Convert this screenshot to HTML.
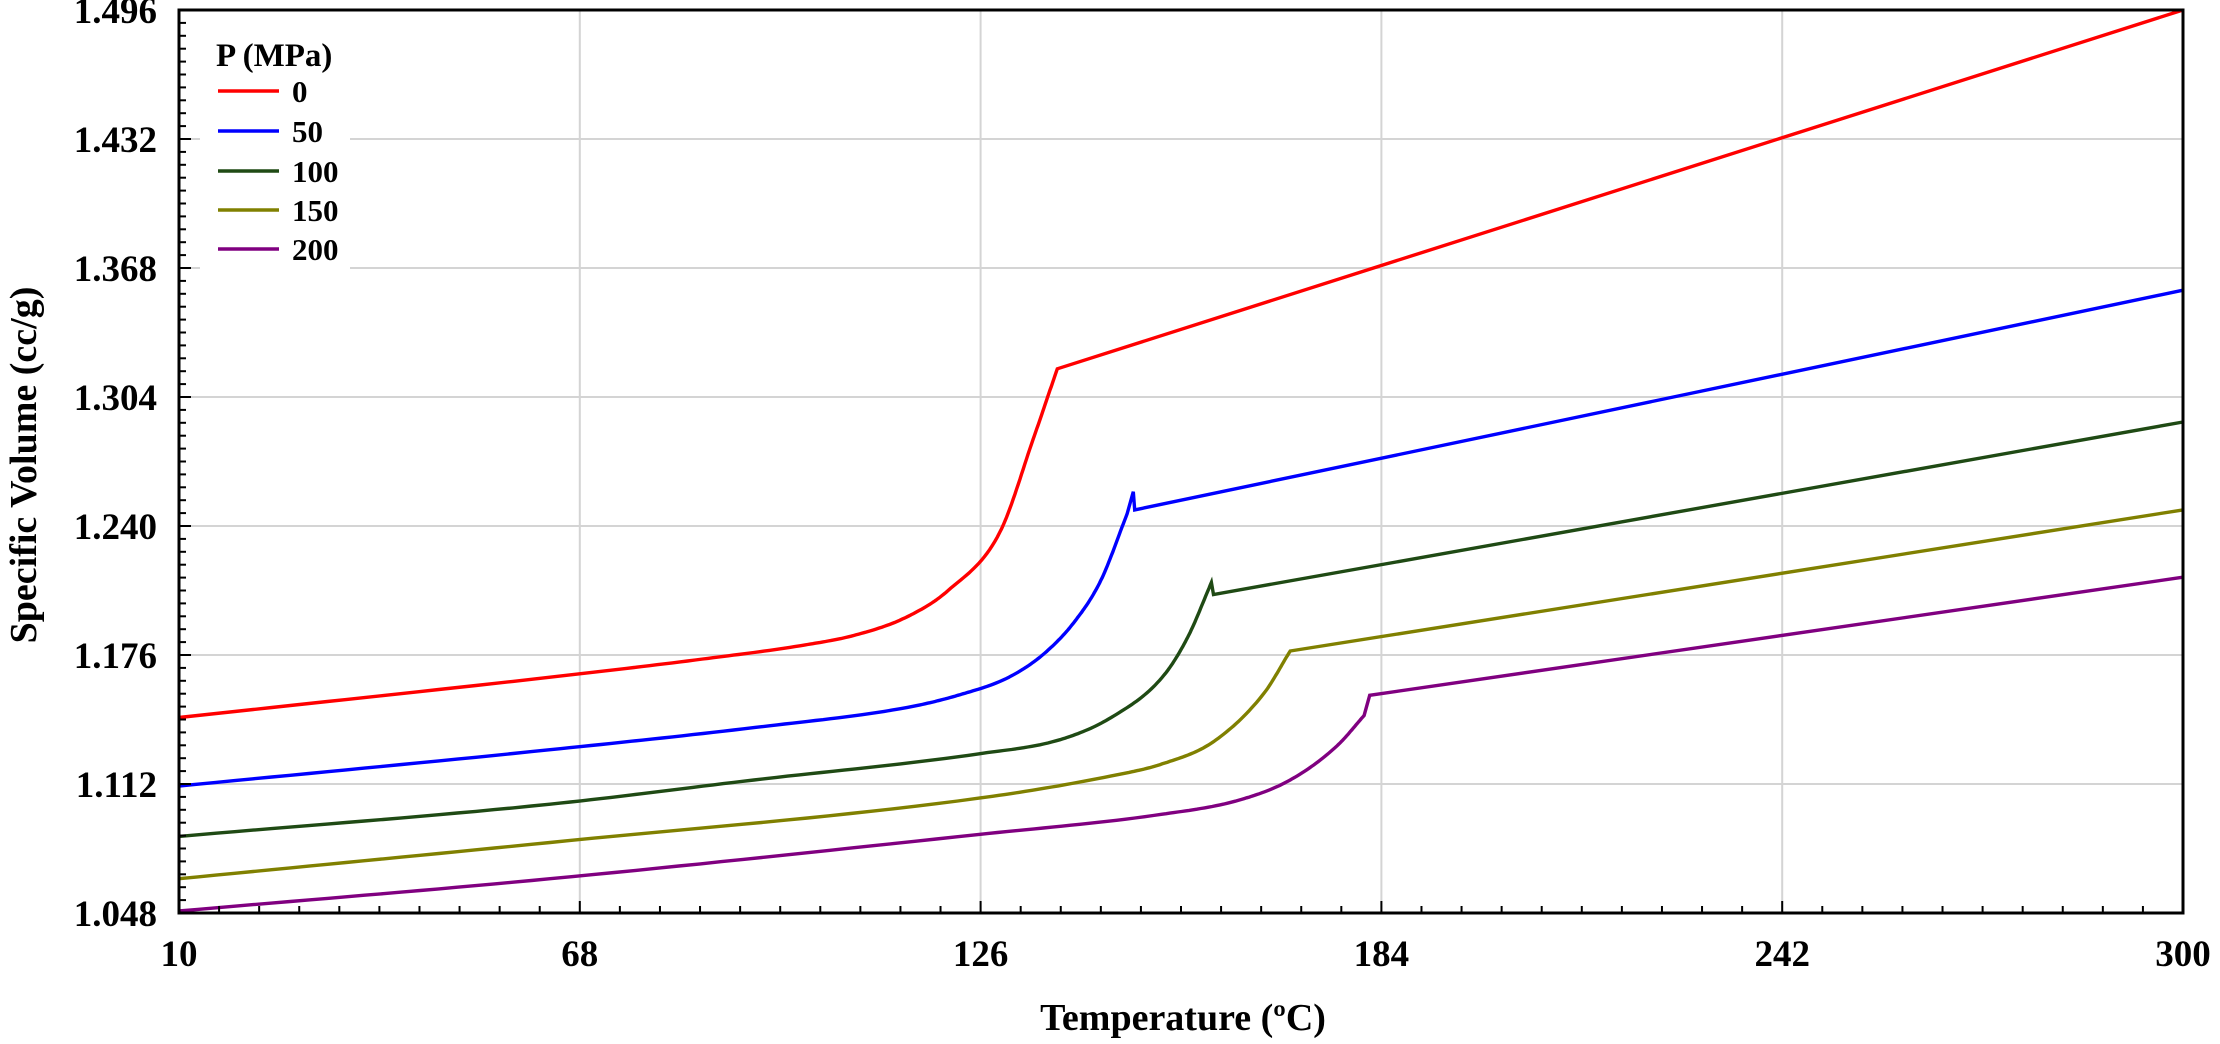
<!DOCTYPE html>
<html><head><meta charset="utf-8"><style>
html,body{margin:0;padding:0;background:#fff}
svg text{font-family:"Liberation Serif",serif;font-weight:bold;fill:#000}
</style></head><body>
<svg id="chart" width="2220" height="1039" viewBox="0 0 2220 1039" xmlns="http://www.w3.org/2000/svg">
<g id="grid"></g>
<g id="series"></g>
<g id="axes"></g>
<g id="legend"></g>
<text x="1183" y="1030" font-size="38" text-anchor="middle">Temperature (ºC)</text>
<text transform="translate(36,465) rotate(-90)" font-size="38" text-anchor="middle">Specific Volume (cc/g)</text>
</svg>
<script>
const xTicks=[10,68,126,184,242,300];
const yTicks=[1.048,1.112,1.176,1.240,1.304,1.368,1.432,1.496];
const yTickLabels=["1.048","1.112","1.176","1.240","1.304","1.368","1.432","1.496"];
const pressures=["0","50","100","150","200"];
const colors=["#ff0000","#0000ff","#1f4a14","#808000","#800080"];
const t0=[10,63.7,85.8,100.6,108,115.4,121.3,128.8,133.6,137.1,300];
const v0=[1.145,1.165,1.174,1.181,1.186,1.195,1.208,1.237,1.283,1.318,1.496];
const t50=[10,63.7,93.2,115.4,122.7,130.1,135.3,139.7,143.4,147.2,148.1,148.3,300];
const v50=[1.111,1.129,1.140,1.150,1.156,1.165,1.177,1.193,1.213,1.246,1.257,1.248,1.357];
const t100=[10,63.7,93.2,125.8,137.5,144.9,152.3,156,159.4,159.7,300];
const v100=[1.086,1.102,1.114,1.127,1.134,1.145,1.165,1.185,1.212,1.206,1.2916];
const t150=[10,63.7,125.8,144.9,152.3,159.7,167,170.8,300];
const v150=[1.065,1.083,1.105,1.116,1.122,1.133,1.157,1.178,1.248];
const t200=[10,63.7,125.8,152.3,163.4,170.8,177.6,181.5,182.3,300];
const v200=[1.049,1.065,1.087,1.097,1.104,1.114,1.131,1.146,1.156,1.2146];
const T=[t0,t50,t100,t150,t200], V=[v0,v50,v100,v150,v200];
// number of leading points joined by a smooth curve; the rest are straight segments
const smoothCount=[10,10,9,8,8];

const L=179,R=2183,TOP=10,BOT=913;
const xs=t=>L+(t-10)/(300-10)*(R-L);
const ys=v=>BOT-(v-1.048)/(1.496-1.048)*(BOT-TOP);
const NS="http://www.w3.org/2000/svg";
function mk(tag,attrs,parent){const e=document.createElementNS(NS,tag);for(const k in attrs)e.setAttribute(k,attrs[k]);parent.appendChild(e);return e;}
function monotone(xa,ya){
  const n=xa.length,d=[],m=[];
  for(let i=0;i<n-1;i++)d.push((ya[i+1]-ya[i])/(xa[i+1]-xa[i]));
  m[0]=d[0];m[n-1]=d[n-2];
  for(let i=1;i<n-1;i++){m[i]=(d[i-1]*d[i]<=0)?0:(d[i-1]+d[i])/2;}
  for(let i=0;i<n-1;i++){if(d[i]===0){m[i]=0;m[i+1]=0;continue;}const a=m[i]/d[i],b=m[i+1]/d[i],s=a*a+b*b;if(s>9){const t=3/Math.sqrt(s);m[i]=t*a*d[i];m[i+1]=t*b*d[i];}}
  const out=[];
  for(let i=0;i<n-1;i++){const h=xa[i+1]-xa[i];for(let k=0;k<20;k++){const s=k/20,h00=2*s*s*s-3*s*s+1,h10=s*s*s-2*s*s+s,h01=-2*s*s*s+3*s*s,h11=s*s*s-s*s;out.push([xa[i]+s*h,h00*ya[i]+h10*h*m[i]+h01*ya[i+1]+h11*h*m[i+1]]);}}
  out.push([xa[n-1],ya[n-1]]);return out;
}
const grid=document.getElementById('grid'),ser=document.getElementById('series'),axes=document.getElementById('axes'),leg=document.getElementById('legend');
xTicks.forEach((t,i)=>{
  if(i>0&&i<xTicks.length-1){const g=mk('line',{x1:xs(t),x2:xs(t),y1:TOP,y2:BOT,stroke:'#d4d4d4','stroke-width':2},grid);
  
  }
  const tx=mk('text',{x:xs(t),y:966,'font-size':37,'text-anchor':'middle'},axes);tx.textContent=t;
  
  
});
yTicks.forEach((v,i)=>{
  if(i>0&&i<yTicks.length-1){const g=mk('line',{x1:L,x2:R,y1:ys(v),y2:ys(v),stroke:'#d4d4d4','stroke-width':2},grid);
  
  }
  const tx=mk('text',{x:157,y:ys(v)+13,'font-size':37,'text-anchor':'end'},axes);tx.textContent=yTickLabels[i];
  
  
});
for(let k=0;k<=50;k++){const x=L+k*(R-L)/50;const len=k%10==0?12:7;mk('line',{x1:x,x2:x,y1:BOT,y2:BOT-len,stroke:'#000','stroke-width':2},axes);}
for(let k=0;k<=70;k++){const y=BOT-k*(BOT-TOP)/70;const len=k%10==0?12:7;mk('line',{x1:L,x2:L+len,y1:y,y2:y,stroke:'#000','stroke-width':2},axes);}
const frame=mk('rect',{x:L,y:TOP,width:R-L,height:BOT-TOP,fill:'none',stroke:'#000','stroke-width':3},axes);


T.forEach((ts,i)=>{
  const c=smoothCount[i];
  let pts=monotone(ts.slice(0,c),V[i].slice(0,c));
  for(let j=c;j<ts.length;j++)pts.push([ts[j],V[i][j]]);
  const s=pts.map(p=>xs(p[0]).toFixed(1)+','+ys(p[1]).toFixed(1)).join(' ');
  const p=mk('polyline',{points:s,fill:'none',stroke:colors[i],'stroke-width':3.4,'stroke-linejoin':'miter'},ser);
  
  
});
const bg=mk('rect',{x:200,y:24,width:150,height:245,fill:'#fff'},leg);


const lt=mk('text',{x:216,y:66,'font-size':33},leg);lt.textContent='P (MPa)';


const legY=[91,131,171,210,249];
pressures.forEach((p,i)=>{
  const g=mk('g',{},leg);
  
  
  mk('line',{x1:218,x2:279,y1:legY[i],y2:legY[i],stroke:colors[i],'stroke-width':3.5},g);
  const t=mk('text',{x:292,y:legY[i]+11,'font-size':31},g);t.textContent=p;
});
</script>
</body></html>
